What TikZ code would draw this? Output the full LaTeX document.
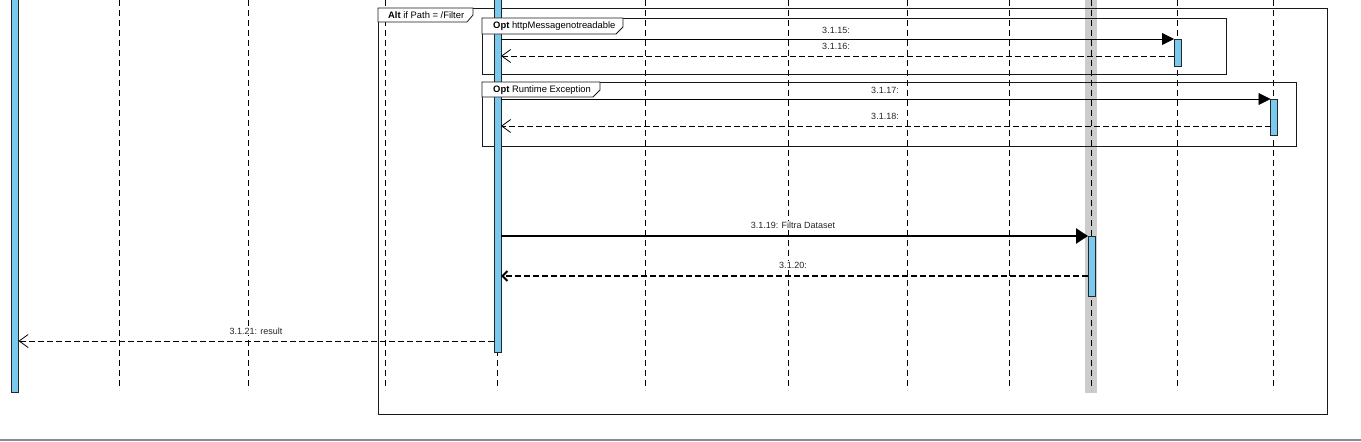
\documentclass[tikz,border=0pt]{standalone}
\usepackage{fontspec}
\setmainfont{Liberation Sans}
\usetikzlibrary{arrows.meta}
\definecolor{actblue}{RGB}{122,202,240}
\definecolor{bandgray}{RGB}{204,204,204}
\begin{document}
\begin{tikzpicture}[x=1pt,y=-1pt,
  font=\fontsize{9}{10.5}\selectfont,
  lifeline/.style={draw=black, line width=0.8pt, dash pattern=on 6pt off 4pt},
  actbar/.style={draw=black!85, fill=actblue, line width=0.7pt, minimum width=7pt, inner sep=0pt, outer sep=0pt},
  umlframe/.style={draw=black!90, line width=0.8pt, inner sep=0pt, outer sep=0pt},
  tab/.style={draw=black!90, fill=white, line width=0.8pt},
  call/.style={draw=black, line width=0.8pt, -{Triangle[length=12pt,width=12pt]}},
  ret/.style={draw=black, line width=0.8pt, dash pattern=on 6pt off 3pt, -{Straight Barb[length=9pt,width=13pt,line width=0.8pt]}},
  bigcall/.style={draw=black, line width=2.4pt, -{Triangle[length=12pt,width=15pt]}},
  bigret/.style={draw=black, line width=2.4pt, dash pattern=on 6pt off 3pt, -{Straight Barb[length=5pt,width=10pt,line width=2pt]}},
  msglbl/.style={fill=white, inner sep=1pt, text=black!85},
  tablbl/.style={anchor=west, inner sep=0pt, font=\fontsize{9.4}{11}\selectfont}
]
\useasboundingbox (0,0) rectangle (1361,442);
\clip (0,0) rectangle (1361,442);

% highlighted band
\node[fill=bandgray, minimum width=12pt, minimum height=400pt, inner sep=0pt] (band) at (1091,193) {};

% lifelines
\foreach \x/\n in {119/l1,248/l2,385/l3,497/l4,645/l5,788/l6,907/l7,1009/l8,1091/l9,1177/l10,1273/l11}{
  \coordinate (\n top) at (\x,0);
  \coordinate (\n bot) at (\x,390);
  \draw[lifeline] (\n top) -- (\n bot);
}

% frames (bodies)
\node[umlframe, minimum width=949pt, minimum height=406pt] (alt) at (852.5,211) {};
\node[umlframe, minimum width=744pt, minimum height=56pt] (opt1) at (854,46) {};
\node[umlframe, minimum width=814pt, minimum height=64pt] (opt2) at (889,114) {};

% activation bars
\node[actbar, minimum height=400pt] (b0) at (15,192) {};
\node[actbar, minimum height=360pt] (b1) at (497.5,172) {};
\node[actbar, minimum height=27pt] (b2) at (1177.5,52.5) {};
\node[actbar, minimum height=36pt] (b3) at (1274,117) {};
\node[actbar, minimum height=60pt] (b4) at (1091.5,266) {};

% frame tabs
\draw[tab] (alt.north west) -- (473,8) -- (473,15) -- (467,22) -- (378,22) -- cycle;
\node[tablbl] (altlbl) at (388,15) {\textbf{Alt} if Path = /Filter};
\draw[tab] (opt1.north west) -- (623,18) -- (623,27) -- (616,34) -- (482,34) -- cycle;
\node[tablbl] (opt1lbl) at (493,26) {\textbf{Opt} httpMessagenotreadable};
\draw[tab] (opt2.north west) -- (600,82) -- (600,90) -- (593,97) -- (482,97) -- cycle;
\node[tablbl] (opt2lbl) at (493,90) {\textbf{Opt} Runtime Exception};

% message coordinates
\coordinate (r16) at (1174,56);
\coordinate (r18) at (1270.5,126);
\coordinate (r20) at (1088,276);
\coordinate (r21) at (494,341);

% messages
\draw[call] (b1.east |- b2.north west) -- (b2.north west);
\node[msglbl] (t15) at (836,30) {3.1.15:};
\draw[ret] (r16) -- (b1.east |- r16);
\node[msglbl] (t16) at (836,46) {3.1.16:};

\draw[call] (b1.east |- b3.north west) -- (b3.north west);
\node[msglbl] (t17) at (885,90) {3.1.17:};
\draw[ret] (r18) -- (b1.east |- r18);
\node[msglbl] (t18) at (885,116) {3.1.18:};

\draw[bigcall] (b1.east |- b4.north west) -- (b4.north west);
\node[msglbl] (t19) at (793,225) {3.1.19: Filtra Dataset};
\draw[bigret] (r20) -- (b1.east |- r20);
\node[msglbl] (t20) at (793,265) {3.1.20:};

\draw[ret] (r21) -- (b0.east |- r21);
\node[msglbl] (t21) at (256,331) {3.1.21: result};

% bottom rule
\draw[draw=black!45, line width=1.2pt] (0,440) -- (1361,440);
\end{tikzpicture}
\end{document}
